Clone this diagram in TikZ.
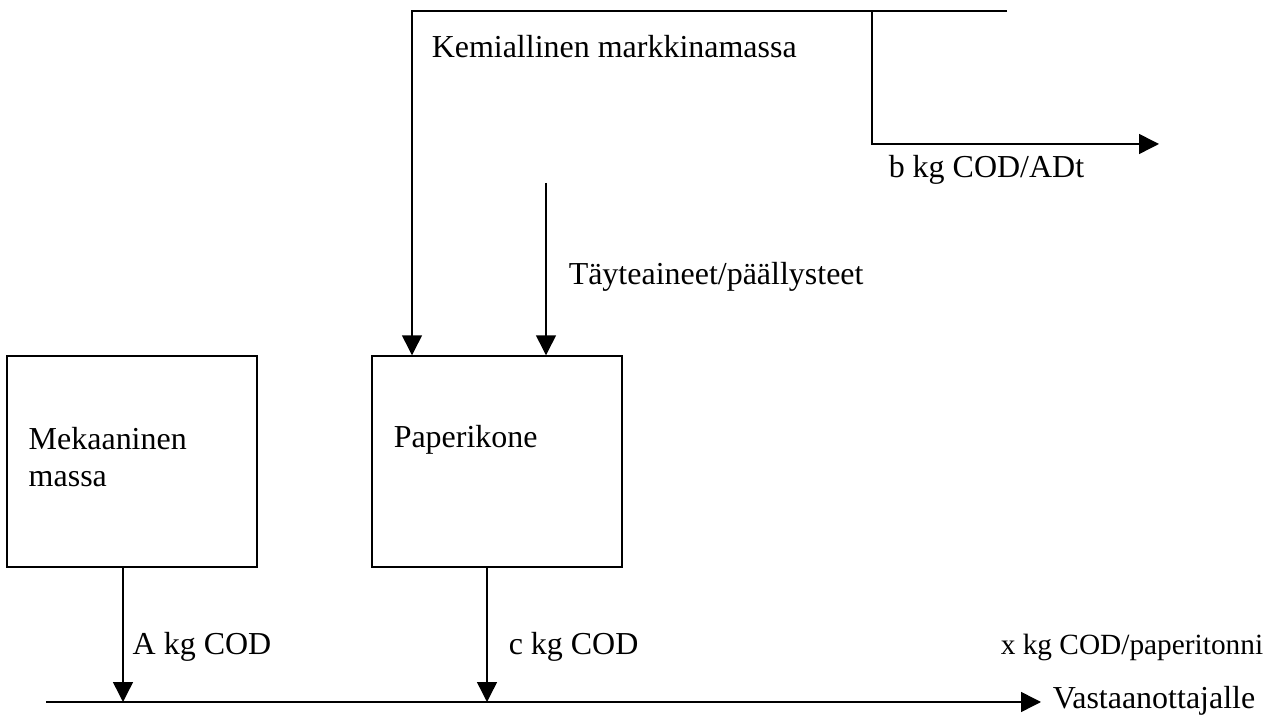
\documentclass[tikz,border=0pt]{standalone}
\usepackage{fontspec}
\setmainfont{Liberation Serif}
\usetikzlibrary{arrows.meta,positioning}

\begin{document}
\begin{tikzpicture}[
  x=0.02cm, y=-0.02cm,
  font=\fontsize{18.2}{21.6}\selectfont,
  line width=0.85pt,
  unit/.style={draw, minimum width=5cm, minimum height=4.22cm, inner sep=0pt},
  lbl/.style={anchor=base west, inner sep=0pt, align=left},
  flow/.style={-{Triangle[length=0.4cm,width=0.4cm]}}
]
\useasboundingbox (0,0) rectangle (1279,715);
\node[unit] (mek) at (132,461.5) {};
\node[unit] (pk) at (497,461.5) {};
\node[lbl] (mektxt) at (28,487) {Mekaaninen\\massa};
\node[lbl] (pktxt) at (393,448) {Paperikone};
\node[lbl] (kem) at (431,58) {Kemiallinen markkinamassa};
\node[lbl] (btxt) at (888,178) {b kg COD/ADt};
\node[lbl] (fil) at (568,285) {Täyteaineet/päällysteet};
\node[lbl] (atxt) at (132,655) {A kg COD};
\node[lbl] (ctxt) at (508,655) {c kg COD};
\node[lbl, font=\fontsize{16.7}{20}\selectfont] (xtxt) at (1000,655) {x kg COD/paperitonni};
\node[lbl] (vast) at (1052,709) {Vastaanottajalle};
\coordinate (ktop) at (412,11);
\coordinate (kend) at (1007,11);
\coordinate (ksplit) at (872,11);
\coordinate (bout) at (1159,144);
\coordinate (fill) at (546,183);
\coordinate (drain) at (46,702);
\coordinate (recv) at (1041,702);
\draw[flow] (kend) -- (ktop) -- (ktop |- pk.north);
\draw[flow] (ksplit) |- (bout);
\draw[flow] (fill) -- (fill |- pk.north);
\draw[flow] ([xshift=-0.18cm]mek.south) -- ([xshift=-0.18cm]mek.south |- drain);
\draw[flow] ([xshift=-0.2cm]pk.south) -- ([xshift=-0.2cm]pk.south |- drain);
\draw[flow] (drain) -- (recv);
\end{tikzpicture}
\end{document}
